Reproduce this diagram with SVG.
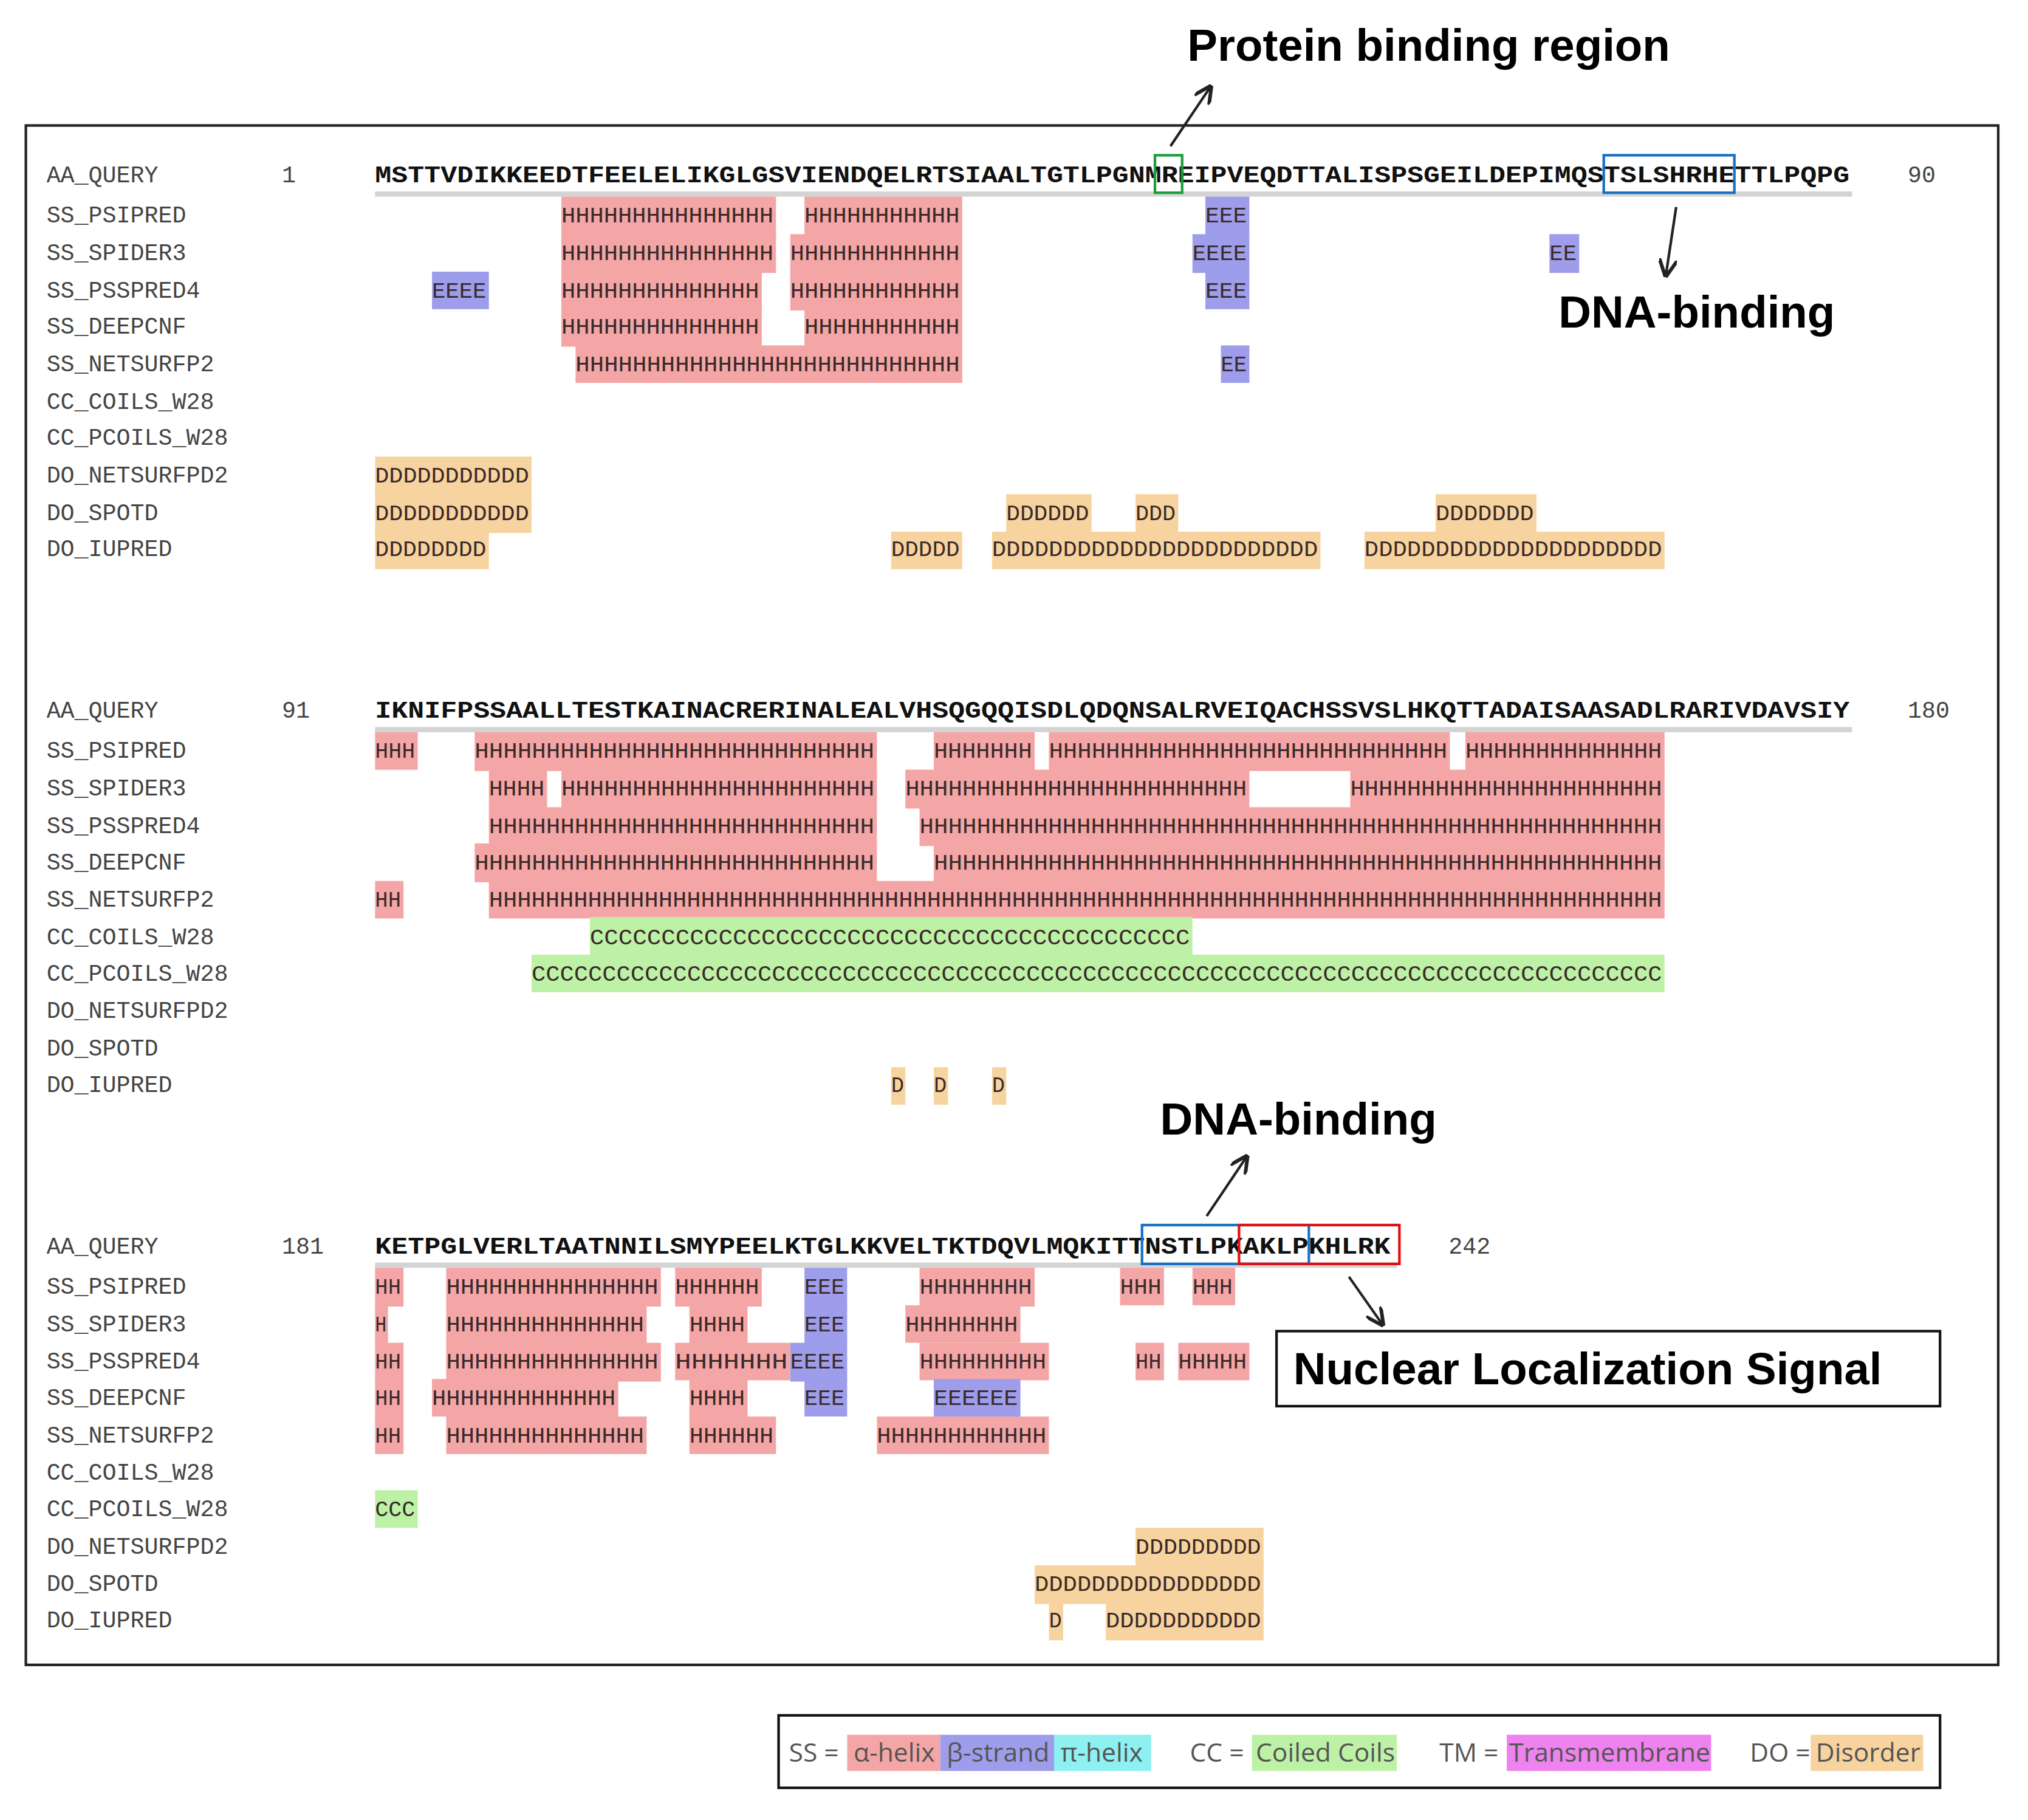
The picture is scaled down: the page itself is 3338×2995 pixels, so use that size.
<svg xmlns="http://www.w3.org/2000/svg" width="3338" height="2995" viewBox="0 0 3338 2995">
<style>
.h{fill:#F4A6A6}.e{fill:#9D9DEB}.c{fill:#BDF2A6}.d{fill:#F7D49F}.p{fill:#8EF0F0}.m{fill:#EE82EE}
.t{font-family:"Liberation Mono",monospace;font-size:17px;fill:#3a2a2a}
.lb{font-family:"Liberation Mono",monospace;font-size:18px;fill:#444}
.sq{font-family:"Liberation Mono",monospace;font-size:18px;font-weight:bold;fill:#111}
.ann{font-family:"Liberation Sans",Arial,sans-serif;font-size:35px;font-weight:bold;fill:#000}
.lg{font-family:"Open Sans","Liberation Sans",sans-serif;font-size:20px;fill:#555}
.ar{stroke:#222;stroke-width:2;fill:none}
</style>
<defs><marker id="ah" viewBox="0 0 10 10" refX="9" refY="5" markerWidth="7" markerHeight="7" orient="auto"><path d="M0,0 L10,5 L0,10" fill="none" stroke="#222" stroke-width="2"/></marker></defs>
<rect width="3338" height="2995" fill="#fff"/>
<g transform="scale(2.1288)">
<rect x="20" y="97" width="1525" height="1190" fill="none" stroke="#222" stroke-width="2"/>
<g id="labels" class="lb">
<text x="36" y="141">AA_QUERY</text><text x="36" y="172">SS_PSIPRED</text><text x="36" y="201">SS_SPIDER3</text><text x="36" y="230">SS_PSSPRED4</text><text x="36" y="258">SS_DEEPCNF</text><text x="36" y="287">SS_NETSURFP2</text><text x="36" y="316">CC_COILS_W28</text><text x="36" y="344">CC_PCOILS_W28</text><text x="36" y="373">DO_NETSURFPD2</text><text x="36" y="402">DO_SPOTD</text><text x="36" y="430">DO_IUPRED</text>
<text x="218" y="141">1</text><text x="1475" y="141">90</text>
<g transform="translate(0,414)"><text x="36" y="141">AA_QUERY</text><text x="36" y="172">SS_PSIPRED</text><text x="36" y="201">SS_SPIDER3</text><text x="36" y="230">SS_PSSPRED4</text><text x="36" y="258">SS_DEEPCNF</text><text x="36" y="287">SS_NETSURFP2</text><text x="36" y="316">CC_COILS_W28</text><text x="36" y="344">CC_PCOILS_W28</text><text x="36" y="373">DO_NETSURFPD2</text><text x="36" y="402">DO_SPOTD</text><text x="36" y="430">DO_IUPRED</text><text x="218" y="141">91</text><text x="1475" y="141">180</text></g>
<g transform="translate(0,828)"><text x="36" y="141">AA_QUERY</text><text x="36" y="172">SS_PSIPRED</text><text x="36" y="201">SS_SPIDER3</text><text x="36" y="230">SS_PSSPRED4</text><text x="36" y="258">SS_DEEPCNF</text><text x="36" y="287">SS_NETSURFP2</text><text x="36" y="316">CC_COILS_W28</text><text x="36" y="344">CC_PCOILS_W28</text><text x="36" y="373">DO_NETSURFPD2</text><text x="36" y="402">DO_SPOTD</text><text x="36" y="430">DO_IUPRED</text><text x="218" y="141">181</text><text x="1120" y="141">242</text></g>
</g>
<g id="sequences">
<rect x="290" y="148" width="1142" height="4" fill="#d4d4d4"/>
<rect x="290" y="562" width="1142" height="4" fill="#d4d4d4"/>
<rect x="290" y="976" width="790" height="4" fill="#d4d4d4"/>
<text class="sq" x="290" y="141" textLength="1140" lengthAdjust="spacingAndGlyphs">MSTTVDIKKEEDTFEELELIKGLGSVIENDQELRTSIAALTGTLPGNMREIPVEQDTTALISPSGEILDEPIMQSTSLSHRHETTLPQPG</text>
<text class="sq" x="290" y="555" textLength="1140" lengthAdjust="spacingAndGlyphs">IKNIFPSSAALLTESTKAINACRERINALEALVHSQGQQISDLQDQNSALRVEIQACHSSVSLHKQTTADAISAASADLRARIVDAVSIY</text>
<text class="sq" x="290" y="969" textLength="785" lengthAdjust="spacingAndGlyphs">KETPGLVERLTAATNNILSMYPEELKTGLKKVELTKTDQVLMQKITTNSTLPKAKLPKHLRK</text>
</g>
<g id="tracks" class="t">
<rect class="h" x="434" y="152" width="166" height="30"/><text x="434" y="172" textLength="164" lengthAdjust="spacingAndGlyphs">HHHHHHHHHHHHHHH</text>
<rect class="h" x="622" y="152" width="122" height="30"/><text x="622" y="172" textLength="120" lengthAdjust="spacingAndGlyphs">HHHHHHHHHHH</text>
<rect class="e" x="932" y="152" width="34" height="30"/><text x="932" y="172" textLength="32" lengthAdjust="spacingAndGlyphs">EEE</text>
<rect class="h" x="434" y="181" width="166" height="30"/><text x="434" y="201" textLength="164" lengthAdjust="spacingAndGlyphs">HHHHHHHHHHHHHHH</text>
<rect class="h" x="611" y="181" width="133" height="30"/><text x="611" y="201" textLength="131" lengthAdjust="spacingAndGlyphs">HHHHHHHHHHHH</text>
<rect class="e" x="922" y="181" width="44" height="30"/><text x="922" y="201" textLength="42" lengthAdjust="spacingAndGlyphs">EEEE</text>
<rect class="e" x="1198" y="181" width="23" height="30"/><text x="1198" y="201" textLength="21" lengthAdjust="spacingAndGlyphs">EE</text>
<rect class="e" x="334" y="210" width="44" height="29"/><text x="334" y="230" textLength="42" lengthAdjust="spacingAndGlyphs">EEEE</text>
<rect class="h" x="434" y="210" width="155" height="30"/><text x="434" y="230" textLength="153" lengthAdjust="spacingAndGlyphs">HHHHHHHHHHHHHH</text>
<rect class="h" x="611" y="210" width="133" height="30"/><text x="611" y="230" textLength="131" lengthAdjust="spacingAndGlyphs">HHHHHHHHHHHH</text>
<rect class="e" x="932" y="210" width="34" height="29"/><text x="932" y="230" textLength="32" lengthAdjust="spacingAndGlyphs">EEE</text>
<rect class="h" x="434" y="238" width="155" height="30"/><text x="434" y="258" textLength="153" lengthAdjust="spacingAndGlyphs">HHHHHHHHHHHHHH</text>
<rect class="h" x="622" y="238" width="122" height="30"/><text x="622" y="258" textLength="120" lengthAdjust="spacingAndGlyphs">HHHHHHHHHHH</text>
<rect class="h" x="445" y="267" width="299" height="29"/><text x="445" y="287" textLength="297" lengthAdjust="spacingAndGlyphs">HHHHHHHHHHHHHHHHHHHHHHHHHHH</text>
<rect class="e" x="944" y="267" width="22" height="29"/><text x="944" y="287" textLength="20" lengthAdjust="spacingAndGlyphs">EE</text>
<rect class="d" x="290" y="353" width="121" height="30"/><text x="290" y="373" textLength="119" lengthAdjust="spacingAndGlyphs">DDDDDDDDDDD</text>
<rect class="d" x="290" y="382" width="121" height="30"/><text x="290" y="402" textLength="119" lengthAdjust="spacingAndGlyphs">DDDDDDDDDDD</text>
<rect class="d" x="778" y="382" width="66" height="30"/><text x="778" y="402" textLength="64" lengthAdjust="spacingAndGlyphs">DDDDDD</text>
<rect class="d" x="878" y="382" width="33" height="30"/><text x="878" y="402" textLength="31" lengthAdjust="spacingAndGlyphs">DDD</text>
<rect class="d" x="1110" y="382" width="78" height="30"/><text x="1110" y="402" textLength="76" lengthAdjust="spacingAndGlyphs">DDDDDDD</text>
<rect class="d" x="290" y="411" width="88" height="29"/><text x="290" y="430" textLength="86" lengthAdjust="spacingAndGlyphs">DDDDDDDD</text>
<rect class="d" x="689" y="411" width="55" height="29"/><text x="689" y="430" textLength="53" lengthAdjust="spacingAndGlyphs">DDDDD</text>
<rect class="d" x="767" y="411" width="254" height="29"/><text x="767" y="430" textLength="252" lengthAdjust="spacingAndGlyphs">DDDDDDDDDDDDDDDDDDDDDDD</text>
<rect class="d" x="1055" y="411" width="232" height="29"/><text x="1055" y="430" textLength="230" lengthAdjust="spacingAndGlyphs">DDDDDDDDDDDDDDDDDDDDD</text>
<g transform="translate(0,414)">
<rect class="h" x="290" y="152" width="33" height="29"/><text x="290" y="172" textLength="31" lengthAdjust="spacingAndGlyphs">HHH</text>
<rect class="h" x="367" y="152" width="311" height="30"/><text x="367" y="172" textLength="309" lengthAdjust="spacingAndGlyphs">HHHHHHHHHHHHHHHHHHHHHHHHHHHH</text>
<rect class="h" x="722" y="152" width="78" height="30"/><text x="722" y="172" textLength="76" lengthAdjust="spacingAndGlyphs">HHHHHHH</text>
<rect class="h" x="811" y="152" width="310" height="30"/><text x="811" y="172" textLength="308" lengthAdjust="spacingAndGlyphs">HHHHHHHHHHHHHHHHHHHHHHHHHHHH</text>
<rect class="h" x="1133" y="152" width="154" height="30"/><text x="1133" y="172" textLength="152" lengthAdjust="spacingAndGlyphs">HHHHHHHHHHHHHH</text>
<rect class="h" x="378" y="181" width="45" height="30"/><text x="378" y="201" textLength="43" lengthAdjust="spacingAndGlyphs">HHHH</text>
<rect class="h" x="434" y="181" width="244" height="30"/><text x="434" y="201" textLength="242" lengthAdjust="spacingAndGlyphs">HHHHHHHHHHHHHHHHHHHHHH</text>
<rect class="h" x="700" y="181" width="266" height="30"/><text x="700" y="201" textLength="264" lengthAdjust="spacingAndGlyphs">HHHHHHHHHHHHHHHHHHHHHHHH</text>
<rect class="h" x="1044" y="181" width="243" height="30"/><text x="1044" y="201" textLength="241" lengthAdjust="spacingAndGlyphs">HHHHHHHHHHHHHHHHHHHHHH</text>
<rect class="h" x="378" y="210" width="300" height="30"/><text x="378" y="230" textLength="298" lengthAdjust="spacingAndGlyphs">HHHHHHHHHHHHHHHHHHHHHHHHHHH</text>
<rect class="h" x="711" y="210" width="576" height="30"/><text x="711" y="230" textLength="574" lengthAdjust="spacingAndGlyphs">HHHHHHHHHHHHHHHHHHHHHHHHHHHHHHHHHHHHHHHHHHHHHHHHHHHH</text>
<rect class="h" x="367" y="238" width="311" height="30"/><text x="367" y="258" textLength="309" lengthAdjust="spacingAndGlyphs">HHHHHHHHHHHHHHHHHHHHHHHHHHHH</text>
<rect class="h" x="722" y="238" width="565" height="30"/><text x="722" y="258" textLength="563" lengthAdjust="spacingAndGlyphs">HHHHHHHHHHHHHHHHHHHHHHHHHHHHHHHHHHHHHHHHHHHHHHHHHHH</text>
<rect class="h" x="290" y="267" width="22" height="29"/><text x="290" y="287" textLength="20" lengthAdjust="spacingAndGlyphs">HH</text>
<rect class="h" x="378" y="267" width="909" height="29"/><text x="378" y="287" textLength="907" lengthAdjust="spacingAndGlyphs">HHHHHHHHHHHHHHHHHHHHHHHHHHHHHHHHHHHHHHHHHHHHHHHHHHHHHHHHHHHHHHHHHHHHHHHHHHHHHHHHHHH</text>
<rect class="c" x="456" y="295" width="466" height="29"/><text x="456" y="316" textLength="464" lengthAdjust="spacingAndGlyphs">CCCCCCCCCCCCCCCCCCCCCCCCCCCCCCCCCCCCCCCCCC</text>
<rect class="c" x="411" y="324" width="876" height="29"/><text x="411" y="344" textLength="874" lengthAdjust="spacingAndGlyphs">CCCCCCCCCCCCCCCCCCCCCCCCCCCCCCCCCCCCCCCCCCCCCCCCCCCCCCCCCCCCCCCCCCCCCCCCCCCCCCCC</text>
<rect class="d" x="689" y="411" width="11" height="29"/><text x="689" y="430" textLength="10" lengthAdjust="spacingAndGlyphs">D</text>
<rect class="d" x="722" y="411" width="11" height="29"/><text x="722" y="430" textLength="10" lengthAdjust="spacingAndGlyphs">D</text>
<rect class="d" x="767" y="411" width="11" height="29"/><text x="767" y="430" textLength="10" lengthAdjust="spacingAndGlyphs">D</text>
</g>
<g transform="translate(0,828)">
<rect class="h" x="290" y="152" width="22" height="30"/><text x="290" y="172" textLength="20" lengthAdjust="spacingAndGlyphs">HH</text>
<rect class="h" x="345" y="152" width="166" height="30"/><text x="345" y="172" textLength="164" lengthAdjust="spacingAndGlyphs">HHHHHHHHHHHHHHH</text>
<rect class="h" x="522" y="152" width="67" height="30"/><text x="522" y="172" textLength="65" lengthAdjust="spacingAndGlyphs">HHHHHH</text>
<rect class="e" x="622" y="152" width="33" height="30"/><text x="622" y="172" textLength="31" lengthAdjust="spacingAndGlyphs">EEE</text>
<rect class="h" x="711" y="152" width="89" height="30"/><text x="711" y="172" textLength="87" lengthAdjust="spacingAndGlyphs">HHHHHHHH</text>
<rect class="h" x="866" y="152" width="34" height="29"/><text x="866" y="172" textLength="32" lengthAdjust="spacingAndGlyphs">HHH</text>
<rect class="h" x="922" y="152" width="33" height="29"/><text x="922" y="172" textLength="31" lengthAdjust="spacingAndGlyphs">HHH</text>
<rect class="h" x="290" y="181" width="10" height="30"/><text x="290" y="201" textLength="9" lengthAdjust="spacingAndGlyphs">H</text>
<rect class="h" x="345" y="181" width="155" height="30"/><text x="345" y="201" textLength="153" lengthAdjust="spacingAndGlyphs">HHHHHHHHHHHHHH</text>
<rect class="h" x="533" y="181" width="45" height="30"/><text x="533" y="201" textLength="43" lengthAdjust="spacingAndGlyphs">HHHH</text>
<rect class="e" x="622" y="181" width="33" height="30"/><text x="622" y="201" textLength="31" lengthAdjust="spacingAndGlyphs">EEE</text>
<rect class="h" x="700" y="181" width="89" height="29"/><text x="700" y="201" textLength="87" lengthAdjust="spacingAndGlyphs">HHHHHHHH</text>
<rect class="h" x="290" y="210" width="22" height="30"/><text x="290" y="230" textLength="20" lengthAdjust="spacingAndGlyphs">HH</text>
<rect class="h" x="345" y="210" width="166" height="30"/><text x="345" y="230" textLength="164" lengthAdjust="spacingAndGlyphs">HHHHHHHHHHHHHHH</text>
<rect class="h" x="522" y="210" width="89" height="29"/><text x="522" y="230" textLength="87" lengthAdjust="spacingAndGlyphs">HHHHHHH</text>
<rect class="e" x="611" y="210" width="44" height="30"/><text x="611" y="230" textLength="42" lengthAdjust="spacingAndGlyphs">EEEE</text>
<rect class="h" x="711" y="210" width="100" height="29"/><text x="711" y="230" textLength="98" lengthAdjust="spacingAndGlyphs">HHHHHHHHH</text>
<rect class="h" x="878" y="210" width="22" height="29"/><text x="878" y="230" textLength="20" lengthAdjust="spacingAndGlyphs">HH</text>
<rect class="h" x="911" y="210" width="55" height="29"/><text x="911" y="230" textLength="53" lengthAdjust="spacingAndGlyphs">HHHHH</text>
<rect class="h" x="290" y="238" width="22" height="30"/><text x="290" y="258" textLength="20" lengthAdjust="spacingAndGlyphs">HH</text>
<rect class="h" x="334" y="238" width="144" height="29"/><text x="334" y="258" textLength="142" lengthAdjust="spacingAndGlyphs">HHHHHHHHHHHHH</text>
<rect class="h" x="533" y="238" width="45" height="29"/><text x="533" y="258" textLength="43" lengthAdjust="spacingAndGlyphs">HHHH</text>
<rect class="e" x="622" y="238" width="33" height="29"/><text x="622" y="258" textLength="31" lengthAdjust="spacingAndGlyphs">EEE</text>
<rect class="e" x="722" y="238" width="67" height="29"/><text x="722" y="258" textLength="65" lengthAdjust="spacingAndGlyphs">EEEEEE</text>
<rect class="h" x="290" y="267" width="22" height="29"/><text x="290" y="287" textLength="20" lengthAdjust="spacingAndGlyphs">HH</text>
<rect class="h" x="345" y="267" width="155" height="29"/><text x="345" y="287" textLength="153" lengthAdjust="spacingAndGlyphs">HHHHHHHHHHHHHH</text>
<rect class="h" x="533" y="267" width="67" height="29"/><text x="533" y="287" textLength="65" lengthAdjust="spacingAndGlyphs">HHHHHH</text>
<rect class="h" x="678" y="267" width="133" height="29"/><text x="678" y="287" textLength="131" lengthAdjust="spacingAndGlyphs">HHHHHHHHHHHH</text>
<rect class="c" x="290" y="324" width="33" height="29"/><text x="290" y="344" textLength="31" lengthAdjust="spacingAndGlyphs">CCC</text>
<rect class="d" x="878" y="353" width="99" height="30"/><text x="878" y="373" textLength="97" lengthAdjust="spacingAndGlyphs">DDDDDDDDD</text>
<rect class="d" x="800" y="382" width="177" height="30"/><text x="800" y="402" textLength="175" lengthAdjust="spacingAndGlyphs">DDDDDDDDDDDDDDDD</text>
<rect class="d" x="811" y="411" width="11" height="29"/><text x="811" y="430" textLength="10" lengthAdjust="spacingAndGlyphs">D</text>
<rect class="d" x="855" y="411" width="122" height="29"/><text x="855" y="430" textLength="120" lengthAdjust="spacingAndGlyphs">DDDDDDDDDDD</text>
</g>
</g>
<g id="boxes" fill="none" stroke-width="2">
<rect x="893" y="120" width="21" height="29" stroke="#1a9e3a"/>
<rect x="1240" y="120" width="101" height="29" stroke="#1a6fc4"/>
<rect x="883" y="947" width="129" height="30" stroke="#1a6fc4"/>
<rect x="958" y="947" width="124" height="30" stroke="#e01010"/>
</g>
<g id="connectors">
<line class="ar" x1="905" y1="113" x2="936" y2="67" marker-end="url(#ah)"/>
<line class="ar" x1="1296" y1="160" x2="1288" y2="213" marker-end="url(#ah)"/>
<line class="ar" x1="933" y1="940" x2="964" y2="894" marker-end="url(#ah)"/>
<line class="ar" x1="1043" y1="987" x2="1069" y2="1024" marker-end="url(#ah)"/>
</g>
<g id="annotations">
<text class="ann" x="918" y="47">Protein binding region</text>
<text class="ann" x="1205" y="253">DNA-binding</text>
<text class="ann" x="897" y="877">DNA-binding</text>
<g id="nls"><rect x="987" y="1029" width="513" height="58" fill="#fff" stroke="#111" stroke-width="2"/><text class="ann" x="1000" y="1070">Nuclear Localization Signal</text></g>
</g>
<g id="legend">
<rect x="602" y="1326" width="898" height="56" fill="#fff" stroke="#111" stroke-width="2"/>
<text class="lg" x="610" y="1362">SS =</text>
<rect class="h" x="655" y="1341" width="72" height="28"/><text class="lg" x="660" y="1362">α-helix</text>
<rect class="e" x="727" y="1341" width="88" height="28"/><text class="lg" x="732" y="1362">β-strand</text>
<rect class="p" x="815" y="1341" width="75" height="28"/><text class="lg" x="820" y="1362">π-helix</text>
<text class="lg" x="920" y="1362">CC =</text>
<rect class="c" x="968" y="1341" width="112" height="28"/><text class="lg" x="971" y="1362">Coiled Coils</text>
<text class="lg" x="1113" y="1362">TM =</text>
<rect class="m" x="1165" y="1341" width="158" height="28"/><text class="lg" x="1167" y="1362">Transmembrane</text>
<text class="lg" x="1353" y="1362">DO =</text>
<rect class="d" x="1400" y="1341" width="87" height="28"/><text class="lg" x="1404" y="1362">Disorder</text>
</g>
</g>
</svg>
